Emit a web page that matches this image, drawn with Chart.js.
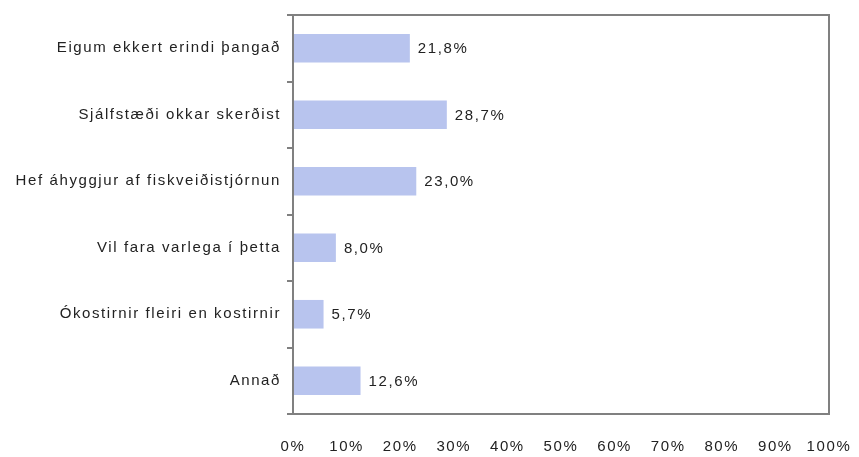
<!DOCTYPE html>
<html>
<head>
<meta charset="utf-8">
<script src="https://cdn.jsdelivr.net/npm/chart.js@4/dist/chart.umd.min.js"></script>
<style>
  html, body { margin: 0; padding: 0; background: #fff; }
  #wrap { width: 859px; height: 457px; }
</style>
</head>
<body>
<div id="wrap"><canvas id="chart" width="859" height="457"></canvas></div>
<script>
// chart data
const categories = [
  'Eigum ekkert erindi þangað',
  'Sjálfstæði okkar skerðist',
  'Hef áhyggjur af fiskveiðistjórnun',
  'Vil fara varlega í þetta',
  'Ókostirnir fleiri en kostirnir',
  'Annað'
];
const values = [21.8, 28.7, 23.0, 8.0, 5.7, 12.6];
const xTicks = [0, 10, 20, 30, 40, 50, 60, 70, 80, 90, 100];

const FONT = "'Liberation Sans', Arial, sans-serif";
const SPACING = '1.6px';

// wider letter spacing, like the original rendering
const spacing = {
  id: 'spacing',
  beforeUpdate(chart) { chart.ctx.letterSpacing = SPACING; },
  beforeDraw(chart) { chart.ctx.letterSpacing = SPACING; }
};

// frame around the plot area
const framePlugin = {
  id: 'frame',
  afterDraw(chart) {
    const { ctx, chartArea: a } = chart;
    ctx.save();
    ctx.strokeStyle = '#808080';
    ctx.lineWidth = 2;
    ctx.strokeRect(a.left, a.top, a.right - a.left, a.bottom - a.top);
    ctx.restore();
  }
};

// value labels to the right of the bars
const valueLabels = {
  id: 'valueLabels',
  afterDatasetsDraw(chart) {
    const { ctx } = chart;
    const meta = chart.getDatasetMeta(0);
    ctx.save();
    ctx.font = '15px ' + FONT;
    ctx.fillStyle = '#222';
    ctx.textBaseline = 'middle';
    ctx.textAlign = 'left';
    meta.data.forEach((bar, i) => {
      const txt = values[i].toFixed(1).replace('.', ',') + '%';
      ctx.fillText(txt, bar.x + 8, bar.y + 1);
    });
    ctx.restore();
  }
};

new Chart(document.getElementById('chart'), {
  type: 'bar',
  data: {
    labels: categories,
    datasets: [{
      data: values,
      backgroundColor: '#b8c4ee',
      borderWidth: 0,
      barPercentage: 0.43,
      categoryPercentage: 1
    }]
  },
  options: {
    indexAxis: 'y',
    responsive: false,
    animation: false,
    layout: { padding: { top: 13, right: 30, bottom: 0, left: 0 } },
    plugins: { legend: { display: false }, tooltip: { enabled: false } },
    scales: {
      x: {
        min: 0,
        max: 100,
        afterBuildTicks(scale) { scale.ticks = xTicks.map(v => ({ value: v })); },
        grid: { display: false, drawTicks: false },
        border: { display: false },
        ticks: {
          color: '#222',
          font: { family: FONT, size: 15 },
          padding: 24,
          callback: v => v + '%'
        },
        afterFit(scale) {
          scale.height = 43;
          scale.paddingLeft = 0;
          scale.paddingRight = 0;
        }
      },
      y: {
        grid: {
          offset: true,
          drawOnChartArea: false,
          color: '#808080',
          lineWidth: 2,
          tickLength: 6
        },
        border: { display: false },
        ticks: {
          color: '#222',
          font: { family: FONT, size: 15 },
          padding: 6
        },
        afterFit(scale) { scale.width = 293; }
      }
    }
  },
  plugins: [spacing, framePlugin, valueLabels]
});
</script>
</body>
</html>
